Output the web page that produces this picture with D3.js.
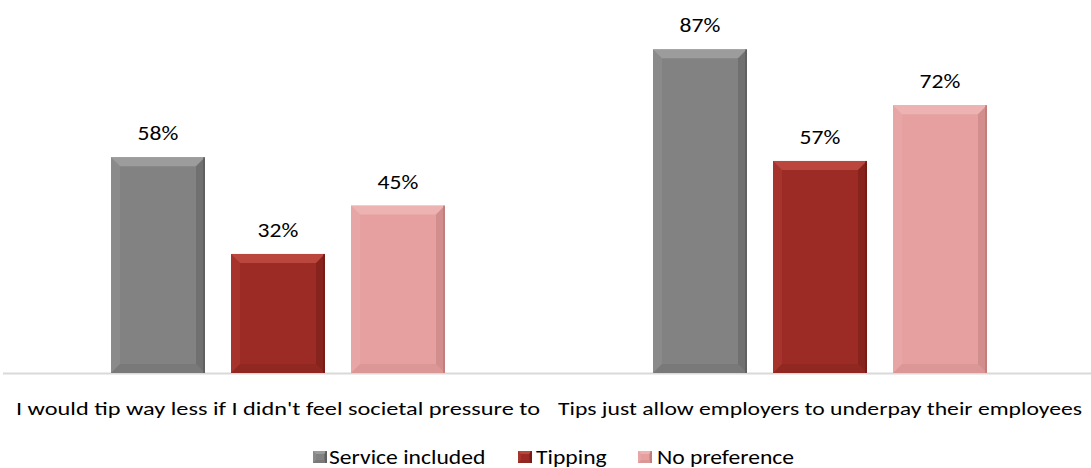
<!DOCTYPE html>
<html>
<head>
<meta charset="utf-8">
<script src="https://cdn.jsdelivr.net/npm/d3@7"></script>
<style>
  html, body { margin: 0; padding: 0; background: #fff; }
  svg { display: block; font-family: Carlito, Lato, "Open Sans", sans-serif; font-weight: 400; }
</style>
</head>
<body>
<svg id="chart" width="1091" height="468"></svg>
<script>
// Survey statements and the share of each group agreeing
const categories = [
  "I would tip way less if I didn't feel societal pressure to",
  "Tips just allow employers to underpay their employees"
];
const seriesNames = ["Service included", "Tipping", "No preference"];
const serviceIncluded = [58, 87];
const tipping = [32, 57];
const noPreference = [45, 72];
const seriesValues = [serviceIncluded, tipping, noPreference];

// Fill, light edge and dark edge for each series
const palette = [
  { base: "#828282", light: "#a3a3a3", dark: "#555555" },
  { base: "#9c2b25", light: "#c24e45", dark: "#6a1812" },
  { base: "#e5a09f", light: "#efb8b7", dark: "#b57372" }
];

const W = 1091, H = 468;
const margin = { top: 1, right: 0, bottom: 95, left: 7 };
const stretch = 1.18;   // text is drawn slightly wider than the font's natural width
const svg = d3.select("#chart");

// Widen a text element horizontally by a fixed factor
function widen(sel, factor) {
  sel.each(function () {
    const w = this.getComputedTextLength();
    d3.select(this).attr("textLength", w * factor).attr("lengthAdjust", "spacingAndGlyphs");
  });
}

const x0 = d3.scaleBand()
  .domain(d3.range(categories.length))
  .range([margin.left, W - margin.right])
  .paddingInner(0).paddingOuter(0);

const x1 = d3.scaleBand()
  .domain(d3.range(seriesNames.length))
  .range([0, x0.bandwidth()])
  .paddingInner(26 / 120)
  .paddingOuter((542 - 360 + 26) / 2 / 120);

const y = d3.scaleLinear().domain([0, 100]).range([H - margin.bottom, margin.top]);

// Baseline
svg.append("line")
  .attr("x1", 3).attr("x2", W)
  .attr("y1", y(0) + 0.5).attr("y2", y(0) + 0.5)
  .attr("stroke", "#d9d9d9").attr("stroke-width", 2);

// Draws a bevelled bar: flat face with lit top/left and shaded right/bottom edges
function bevelRect(g, bx, by, bw, bh, c, b) {
  b = Math.min(b, bw / 2, bh / 2);
  g.append("rect").attr("x", bx).attr("y", by).attr("width", bw).attr("height", bh).attr("fill", c.base);
  const poly = (pts, fill, op) => g.append("polygon")
    .attr("points", pts.map(p => p.join(",")).join(" "))
    .attr("fill", fill).attr("opacity", op);
  const x2 = bx + bw, y2 = by + bh;
  poly([[bx, by], [x2, by], [x2 - b, by + b], [bx + b, by + b]], c.light, 0.8);
  poly([[bx, by], [bx + b, by + b], [bx + b, y2 - b], [bx, y2]], c.light, 0.25);
  poly([[x2, by], [x2, y2], [x2 - b, y2 - b], [x2 - b, by + b]], c.dark, 0.4);
  poly([[bx, y2], [bx + b, y2 - b], [x2 - b, y2 - b], [x2, y2]], c.dark, 0.2);
  g.append("rect").attr("x", x2 - 2).attr("y", by).attr("width", 2).attr("height", bh)
    .attr("fill", c.dark).attr("opacity", 0.6);
}

const groups = svg.selectAll("g.cat")
  .data(categories.map((c, i) => i))
  .join("g").attr("class", "cat")
  .attr("transform", i => `translate(${x0(i)},0)`);

groups.each(function (ci) {
  const g = d3.select(this);
  seriesValues.forEach((vals, si) => {
    const v = vals[ci];
    const bx = x1(si), bw = x1.bandwidth();
    const top = y(v), bh = y(0) - top;
    bevelRect(g.append("g"), bx, top, bw, bh, palette[si], 9);
    g.append("text")
      .attr("class", "value")
      .attr("x", bx + bw / 2).attr("y", top - 17)
      .attr("text-anchor", "middle")
      .attr("font-size", 20).attr("fill", "#000")
      .text(v + "%");
  });
});
widen(svg.selectAll("text.value"), stretch);

// Category axis labels
const xAxis = d3.axisBottom(x0).tickSize(0).tickFormat(i => categories[i]);
const axisG = svg.append("g").attr("transform", `translate(0,${y(0)})`).call(xAxis);
axisG.select(".domain").remove();
axisG.selectAll("text")
  .attr("font-family", "Carlito, Lato, sans-serif")
  .attr("font-weight", 400)
  .attr("font-size", 19).attr("fill", "#000")
  .attr("dy", 0).attr("y", 42)
  .attr("textLength", 524).attr("lengthAdjust", "spacingAndGlyphs");

// Legend
const legendItems = [
  { x: 313, tx: 329 },
  { x: 518, tx: 536 },
  { x: 638, tx: 657 }
];
const legend = svg.append("g");
seriesNames.forEach((name, si) => {
  const it = legendItems[si];
  bevelRect(legend.append("g"), it.x, 451, 14, 12, palette[si], 3);
  legend.append("text")
    .attr("class", "legend-label")
    .attr("x", it.tx).attr("y", 464)
    .attr("font-size", 20).attr("fill", "#000")
    .text(name);
});
widen(legend.selectAll("text.legend-label"), stretch);
</script>
</body>
</html>
